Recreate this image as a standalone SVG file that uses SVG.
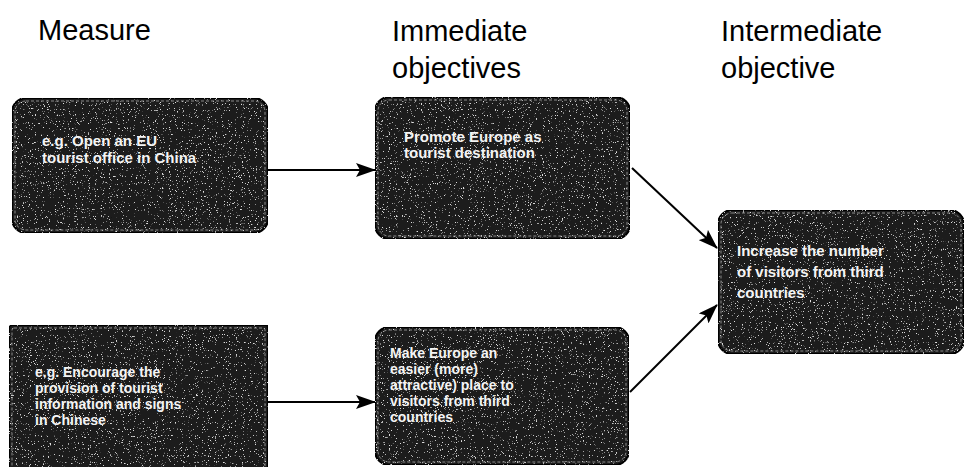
<svg xmlns="http://www.w3.org/2000/svg" width="966" height="467" viewBox="0 0 966 467">
<style>
.hdr{font-family:"Liberation Sans",Arial,sans-serif;font-size:29px;fill:#000}
.box{fill:#1e1e1e;stroke:#000;stroke-width:2}
.inner{fill:none;stroke:#8a8a8a;stroke-width:1;stroke-dasharray:3 2}
.lbl{font-family:"Liberation Sans",Arial,sans-serif;font-size:15px;font-weight:bold;fill:#f4f4f4}
.sm{font-size:14px}
.conn{stroke:#000;stroke-width:2;fill:none;marker-end:url(#ah)}
</style>
<defs>
<marker id="ah" markerUnits="userSpaceOnUse" markerWidth="20" markerHeight="14" refX="19" refY="7" orient="auto">
<path d="M0,0 L20,7 L0,14 L4,7 Z" fill="#000"/>
</marker>
<filter id="speckle" x="0" y="0" width="100%" height="100%">
<feTurbulence type="fractalNoise" baseFrequency="0.85" numOctaves="2" seed="7" result="n"/>
<feColorMatrix in="n" type="matrix" values="0 0 0 0 0.75  0 0 0 0 0.75  0 0 0 0 0.75  10 0 0 0 -6.6" result="dots"/>
<feComposite in="dots" in2="SourceGraphic" operator="in" result="d2"/>
<feMerge><feMergeNode in="SourceGraphic"/><feMergeNode in="d2"/></feMerge>
</filter>
</defs>
<rect width="966" height="467" fill="#fff"/>

<g id="headers">
<text class="hdr" x="38" y="40">Measure</text>
<text class="hdr" x="392" y="41">Immediate</text>
<text class="hdr" x="392" y="78">objectives</text>
<text class="hdr" x="721" y="41">Intermediate</text>
<text class="hdr" x="721" y="78">objective</text>
</g>

<g id="connectors">
<line class="conn" x1="268" y1="170" x2="375" y2="170"/>
<line class="conn" x1="268" y1="402" x2="375" y2="402"/>
<line class="conn" x1="632" y1="168" x2="717" y2="248"/>
<line class="conn" x1="630" y1="392" x2="717" y2="305"/>
</g>

<g id="n1">
<rect class="box" x="12" y="98" width="256" height="135" rx="14" filter="url(#speckle)"/>
<rect class="inner" x="15" y="101" width="250" height="129" rx="11"/>
<text class="lbl" x="42" y="146">e.g. Open an EU</text>
<text class="lbl" x="42" y="163">tourist office in China</text>
</g>

<g id="n2">
<rect class="box" x="375" y="97" width="255" height="142" rx="14" filter="url(#speckle)"/>
<rect class="inner" x="378" y="100" width="249" height="136" rx="11"/>
<text class="lbl" x="404" y="142">Promote Europe as</text>
<text class="lbl" x="404" y="158">tourist destination</text>
</g>

<g id="n3">
<rect class="box" x="718" y="210" width="246" height="144" rx="14" filter="url(#speckle)"/>
<rect class="inner" x="721" y="213" width="240" height="138" rx="11"/>
<text class="lbl" x="737" y="256">Increase the number</text>
<text class="lbl" x="737" y="277">of visitors from third</text>
<text class="lbl" x="737" y="298">countries</text>
</g>

<g id="n4">
<rect class="box" x="9" y="325" width="259" height="147" rx="3" filter="url(#speckle)"/>
<rect class="inner" x="12" y="328" width="253" height="141" rx="2"/>
<text class="lbl sm" x="35" y="377">e.g. Encourage the</text>
<text class="lbl sm" x="35" y="393">provision of tourist</text>
<text class="lbl sm" x="35" y="409">information and signs</text>
<text class="lbl sm" x="35" y="425">in Chinese</text>
</g>

<g id="n5">
<rect class="box" x="375" y="327" width="254" height="138" rx="14" filter="url(#speckle)"/>
<rect class="inner" x="378" y="330" width="248" height="132" rx="11"/>
<text class="lbl sm" x="390" y="358">Make Europe an</text>
<text class="lbl sm" x="390" y="374">easier (more)</text>
<text class="lbl sm" x="390" y="390">attractive) place to</text>
<text class="lbl sm" x="390" y="406">visitors from third</text>
<text class="lbl sm" x="390" y="422">countries</text>
</g>
</svg>
